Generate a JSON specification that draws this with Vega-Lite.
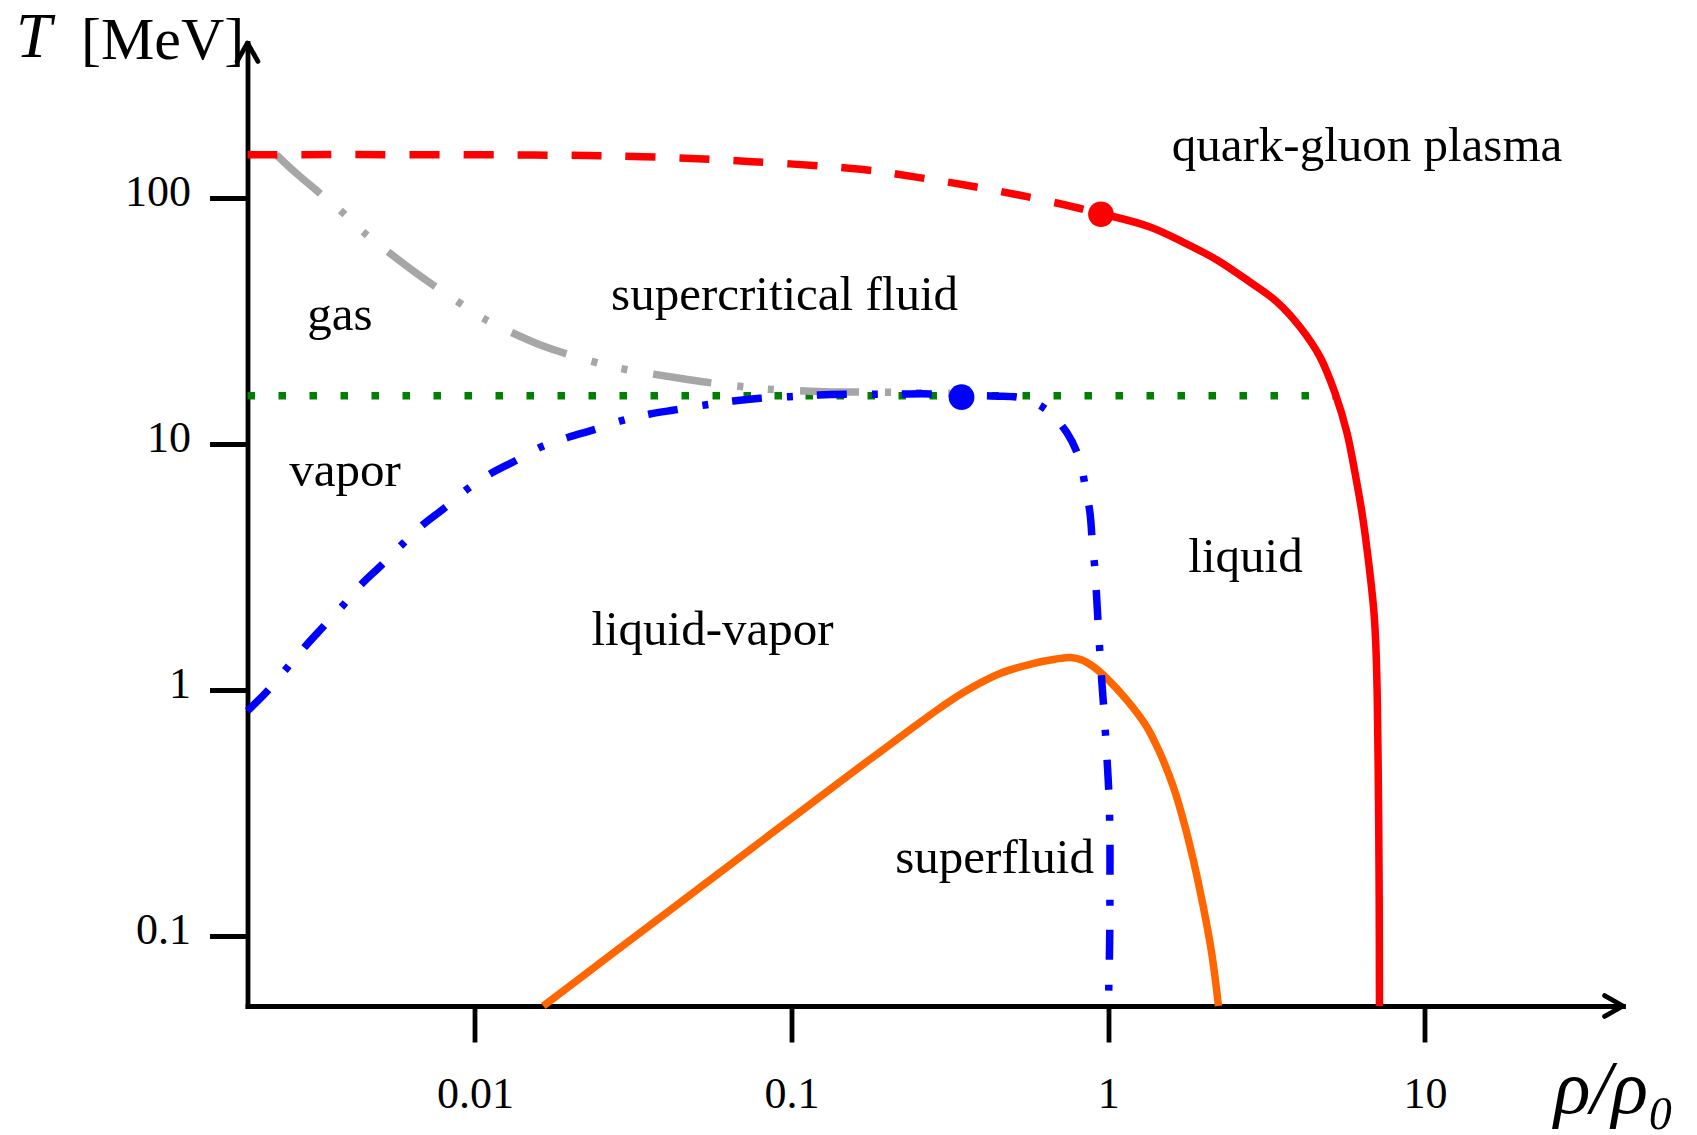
{
  "$schema": "https://vega.github.io/schema/vega-lite/v6.json",
  "autosize": {"type": "none"},
  "padding": {"left": 247.5, "top": 43, "right": 74, "bottom": 129},
  "width": 1375.5,
  "height": 963,
  "background": "white",
  "config": {"view": {"stroke": null}, "font": "Liberation Serif"},
  "datasets": {
    "green": [
      {"i": 0, "rho": 0.001914, "T": 15.7},
      {"i": 1, "rho": 5.24, "T": 15.7}
    ],
    "orange": [
      {"i": 0, "rho": 0.01644, "T": 0.0519},
      {"i": 1, "rho": 0.02483, "T": 0.07767},
      {"i": 2, "rho": 0.03571, "T": 0.1106},
      {"i": 3, "rho": 0.05137, "T": 0.1575},
      {"i": 4, "rho": 0.07388, "T": 0.2243},
      {"i": 5, "rho": 0.1063, "T": 0.3191},
      {"i": 6, "rho": 0.1529, "T": 0.4547},
      {"i": 7, "rho": 0.1902, "T": 0.5598},
      {"i": 8, "rho": 0.2416, "T": 0.7038},
      {"i": 9, "rho": 0.2941, "T": 0.845},
      {"i": 10, "rho": 0.3571, "T": 0.9953},
      {"i": 11, "rho": 0.455, "T": 1.167},
      {"i": 12, "rho": 0.5784, "T": 1.281},
      {"i": 13, "rho": 0.6788, "T": 1.333},
      {"i": 14, "rho": 0.7626, "T": 1.356},
      {"i": 15, "rho": 0.8259, "T": 1.324},
      {"i": 16, "rho": 0.8968, "T": 1.244},
      {"i": 17, "rho": 0.9884, "T": 1.116},
      {"i": 18, "rho": 1.143, "T": 0.911},
      {"i": 19, "rho": 1.322, "T": 0.7093},
      {"i": 20, "rho": 1.457, "T": 0.553},
      {"i": 21, "rho": 1.604, "T": 0.4045},
      {"i": 22, "rho": 1.725, "T": 0.2962},
      {"i": 23, "rho": 1.855, "T": 0.2037},
      {"i": 24, "rho": 1.995, "T": 0.1315},
      {"i": 25, "rho": 2.121, "T": 0.0851},
      {"i": 26, "rho": 2.228, "T": 0.0519}
    ],
    "gray": [
      {"i": 0, "rho": 0.00236, "T": 150},
      {"i": 1, "rho": 0.002729, "T": 126.0},
      {"i": 2, "rho": 0.003212, "T": 105.5},
      {"i": 3, "rho": 0.003814, "T": 87.5},
      {"i": 4, "rho": 0.004432, "T": 72.9},
      {"i": 5, "rho": 0.006223, "T": 51.8},
      {"i": 6, "rho": 0.007373, "T": 44.3},
      {"i": 7, "rho": 0.008887, "T": 37.67},
      {"i": 8, "rho": 0.01061, "T": 32.43},
      {"i": 9, "rho": 0.01545, "T": 25.81},
      {"i": 10, "rho": 0.01897, "T": 23.5},
      {"i": 11, "rho": 0.0236, "T": 21.61},
      {"i": 12, "rho": 0.02865, "T": 20.31},
      {"i": 13, "rho": 0.04432, "T": 18.5},
      {"i": 14, "rho": 0.05393, "T": 17.82},
      {"i": 15, "rho": 0.06738, "T": 17.21},
      {"i": 16, "rho": 0.08241, "T": 16.73},
      {"i": 17, "rho": 0.1275, "T": 16.32},
      {"i": 18, "rho": 0.1972, "T": 16.23},
      {"i": 19, "rho": 0.2416, "T": 16.17},
      {"i": 20, "rho": 0.3163, "T": 16.07}
    ],
    "blue": [
      {"i": 0, "rho": 0.001914, "T": 0.822},
      {"i": 1, "rho": 0.002201, "T": 0.984},
      {"i": 2, "rho": 0.002545, "T": 1.225},
      {"i": 3, "rho": 0.002907, "T": 1.5},
      {"i": 4, "rho": 0.00332, "T": 1.808},
      {"i": 5, "rho": 0.003842, "T": 2.216},
      {"i": 6, "rho": 0.004391, "T": 2.697},
      {"i": 7, "rho": 0.005077, "T": 3.222},
      {"i": 8, "rho": 0.005941, "T": 3.947},
      {"i": 9, "rho": 0.006841, "T": 4.686},
      {"i": 10, "rho": 0.008045, "T": 5.509},
      {"i": 11, "rho": 0.009532, "T": 6.606},
      {"i": 12, "rho": 0.01116, "T": 7.551},
      {"i": 13, "rho": 0.01338, "T": 8.53},
      {"i": 14, "rho": 0.01625, "T": 9.75},
      {"i": 15, "rho": 0.01972, "T": 10.65},
      {"i": 16, "rho": 0.02394, "T": 11.47},
      {"i": 17, "rho": 0.02907, "T": 12.44},
      {"i": 18, "rho": 0.03571, "T": 13.24},
      {"i": 19, "rho": 0.04337, "T": 13.79},
      {"i": 20, "rho": 0.05327, "T": 14.41},
      {"i": 21, "rho": 0.06545, "T": 14.96},
      {"i": 22, "rho": 0.07948, "T": 15.34},
      {"i": 23, "rho": 0.09883, "T": 15.57},
      {"i": 24, "rho": 0.1214, "T": 15.82},
      {"i": 25, "rho": 0.1493, "T": 15.92},
      {"i": 26, "rho": 0.1857, "T": 15.92},
      {"i": 27, "rho": 0.2253, "T": 15.97},
      {"i": 28, "rho": 0.2802, "T": 15.97},
      {"i": 29, "rho": 0.3444, "T": 15.8},
      {"i": 30, "rho": 0.4387, "T": 15.67},
      {"i": 31, "rho": 0.5366, "T": 15.34},
      {"i": 32, "rho": 0.6389, "T": 13.75},
      {"i": 33, "rho": 0.7391, "T": 11.14},
      {"i": 34, "rho": 0.8083, "T": 8.771},
      {"i": 35, "rho": 0.8441, "T": 6.813},
      {"i": 36, "rho": 0.8755, "T": 5.228},
      {"i": 37, "rho": 0.8903, "T": 3.97},
      {"i": 38, "rho": 0.9078, "T": 3.074},
      {"i": 39, "rho": 0.9192, "T": 2.359},
      {"i": 40, "rho": 0.9299, "T": 1.808},
      {"i": 41, "rho": 0.9532, "T": 1.098},
      {"i": 42, "rho": 0.9692, "T": 0.816},
      {"i": 43, "rho": 0.9884, "T": 0.553},
      {"i": 44, "rho": 1.005, "T": 0.368},
      {"i": 45, "rho": 1.012, "T": 0.2456},
      {"i": 46, "rho": 1.012, "T": 0.1662},
      {"i": 47, "rho": 1.011, "T": 0.1109},
      {"i": 48, "rho": 1.007, "T": 0.075},
      {"i": 49, "rho": 1.0, "T": 0.0519}
    ],
    "red_dashed": [
      {"i": 0, "rho": 0.001914, "T": 150},
      {"i": 1, "rho": 0.01537, "T": 149.5},
      {"i": 2, "rho": 0.03395, "T": 147.2},
      {"i": 3, "rho": 0.075, "T": 140.5},
      {"i": 4, "rho": 0.1656, "T": 130.8},
      {"i": 5, "rho": 0.2416, "T": 122.1},
      {"i": 6, "rho": 0.3527, "T": 112.9},
      {"i": 7, "rho": 0.5224, "T": 102.8},
      {"i": 8, "rho": 0.7789, "T": 91.9},
      {"i": 9, "rho": 0.948, "T": 85.9}
    ],
    "red_solid": [
      {"i": 0, "rho": 0.948, "T": 85.9},
      {"i": 1, "rho": 1.05, "T": 83.7},
      {"i": 2, "rho": 1.354, "T": 76.2},
      {"i": 3, "rho": 1.721, "T": 66.2},
      {"i": 4, "rho": 2.204, "T": 56.0},
      {"i": 5, "rho": 2.802, "T": 45.5},
      {"i": 6, "rho": 3.41, "T": 37.8},
      {"i": 7, "rho": 4.03, "T": 29.9},
      {"i": 8, "rho": 4.661, "T": 22.6},
      {"i": 9, "rho": 5.198, "T": 16.1},
      {"i": 10, "rho": 5.671, "T": 11.1},
      {"i": 11, "rho": 6.011, "T": 7.63},
      {"i": 12, "rho": 6.326, "T": 5.24},
      {"i": 13, "rho": 6.607, "T": 3.47},
      {"i": 14, "rho": 6.902, "T": 2.056},
      {"i": 15, "rho": 7.003, "T": 1.454},
      {"i": 16, "rho": 7.069, "T": 0.911},
      {"i": 17, "rho": 7.131, "T": 0.357},
      {"i": 18, "rho": 7.167, "T": 0.14},
      {"i": 19, "rho": 7.181, "T": 0.0519}
    ],
    "crit": [
      {"kind": "QCD", "rho": 0.948, "T": 85.9},
      {"kind": "nuclear", "rho": 0.344, "T": 15.5}
    ],
    "labels": [
      {"text": "quark-gluon plasma", "rho": 6.56, "T": 141.8},
      {"text": "supercritical fluid", "rho": 0.095, "T": 35.05},
      {"text": "gas", "rho": 0.00375, "T": 29.07},
      {"text": "vapor", "rho": 0.00389, "T": 6.75},
      {"text": "liquid", "rho": 2.712, "T": 3.026},
      {"text": "liquid-vapor", "rho": 0.05626, "T": 1.523},
      {"text": "superfluid", "rho": 0.4375, "T": 0.1795}
    ],
    "symbolT": [
      {"text": "T", "rho": 0.000405, "T": 374.3}
    ],
    "arrows": [
      {"axis": "x", "rho": 42.19, "T": 0.05192},
      {"axis": "y", "rho": 0.001914, "T": 426.6}
    ]
  },
  "encoding": {
    "x": {
      "field": "rho",
      "type": "quantitative",
      "scale": {"type": "log", "domain": [0.001914, 42.19], "nice": false},
      "axis": {
        "values": [0.01, 0.1, 1, 10],
        "format": "~g",
        "grid": false,
        "domainColor": "black",
        "domainWidth": 4.8,
        "domainCap": "square",
        "tickColor": "black",
        "tickWidth": 4.8,
        "tickSize": 36,
        "labelFont": "Liberation Serif",
        "labelFontSize": 44,
        "labelColor": "black",
        "labelPadding": 65,
        "labelBaseline": "alphabetic",
        "labelAlign": "center",
        "labelFlush": false,
        "labelOverlap": false,
        "title": "ρ/ρ₀",
        "titleFont": "Liberation Serif",
        "titleFontSize": 76,
        "titleFontStyle": "italic",
        "titleFontWeight": "normal",
        "titleColor": "black",
        "titleAlign": "left",
        "titleBaseline": "alphabetic",
        "titleX": 1306,
        "titleY": 106
      }
    },
    "y": {
      "field": "T",
      "type": "quantitative",
      "scale": {"type": "log", "domain": [0.05192, 426.6], "nice": false},
      "axis": {
        "values": [0.1, 1, 10, 100],
        "format": "~g",
        "grid": false,
        "domainColor": "black",
        "domainWidth": 4.8,
        "domainCap": "square",
        "tickColor": "black",
        "tickWidth": 4.8,
        "tickSize": 38,
        "labelFont": "Liberation Serif",
        "labelFontSize": 44,
        "labelColor": "black",
        "labelPadding": 19,
        "labelBaseline": "alphabetic",
        "labelOffset": 8,
        "labelFlush": false,
        "labelOverlap": false,
        "title": "[MeV]",
        "titleFont": "Liberation Serif",
        "titleFontSize": 60,
        "titleFontWeight": "normal",
        "titleColor": "black",
        "titleAngle": 0,
        "titleAlign": "left",
        "titleBaseline": "alphabetic",
        "titleX": -167,
        "titleY": 15
      }
    }
  },
  "layer": [
    {
      "data": {"name": "green"},
      "mark": {"type": "line", "color": "#008000", "strokeWidth": 7.5, "strokeDash": [7.5, 23.5], "strokeCap": "butt"},
      "encoding": {"order": {"field": "i", "type": "quantitative"}}
    },
    {
      "data": {"name": "orange"},
      "mark": {"type": "line", "color": "#ff6600", "strokeWidth": 7.5, "interpolate": "catmull-rom"},
      "encoding": {"order": {"field": "i", "type": "quantitative"}}
    },
    {
      "data": {"name": "gray"},
      "mark": {"type": "line", "color": "#a6a6a6", "strokeWidth": 7.5, "strokeDash": [59, 26, 6, 25, 6, 26], "strokeCap": "butt", "interpolate": "catmull-rom"},
      "encoding": {"order": {"field": "i", "type": "quantitative"}}
    },
    {
      "data": {"name": "blue"},
      "mark": {"type": "line", "color": "#0000ff", "strokeWidth": 7.5, "strokeDash": [30, 25, 6, 24], "strokeCap": "butt", "interpolate": "catmull-rom"},
      "encoding": {"order": {"field": "i", "type": "quantitative"}}
    },
    {
      "data": {"name": "red_dashed"},
      "mark": {"type": "line", "color": "#ff0000", "strokeWidth": 7.5, "strokeDash": [30, 24], "strokeCap": "butt", "interpolate": "catmull-rom"},
      "encoding": {"order": {"field": "i", "type": "quantitative"}}
    },
    {
      "data": {"name": "red_solid"},
      "mark": {"type": "line", "color": "#ff0000", "strokeWidth": 7.5, "interpolate": "catmull-rom"},
      "encoding": {"order": {"field": "i", "type": "quantitative"}}
    },
    {
      "data": {"name": "crit"},
      "mark": {"type": "circle", "size": 660, "opacity": 1},
      "encoding": {
        "color": {"field": "kind", "type": "nominal", "scale": {"domain": ["QCD", "nuclear"], "range": ["#ff0000", "#0000ff"]}, "legend": null}
      }
    },
    {
      "data": {"name": "labels"},
      "mark": {"type": "text", "font": "Liberation Serif", "fontSize": 49, "align": "center", "baseline": "alphabetic", "color": "black"},
      "encoding": {"text": {"field": "text", "type": "nominal"}}
    },
    {
      "data": {"name": "symbolT"},
      "mark": {"type": "text", "font": "Liberation Serif", "fontSize": 64, "fontStyle": "italic", "align": "center", "baseline": "alphabetic", "color": "black"},
      "encoding": {"text": {"field": "text", "type": "nominal"}}
    },
    {
      "data": {"name": "arrows"},
      "mark": {"type": "point", "filled": false, "size": 1600, "strokeWidth": 4.8, "color": "black", "opacity": 1, "strokeJoin": "round", "strokeCap": "round"},
      "encoding": {
        "shape": {"field": "axis", "type": "nominal", "scale": {"domain": ["x", "y"], "range": ["M -0.92 -0.52 L 0 0 L -0.92 0.52", "M -0.52 0.92 L 0 0 L 0.52 0.92"]}, "legend": null}
      }
    }
  ]
}
